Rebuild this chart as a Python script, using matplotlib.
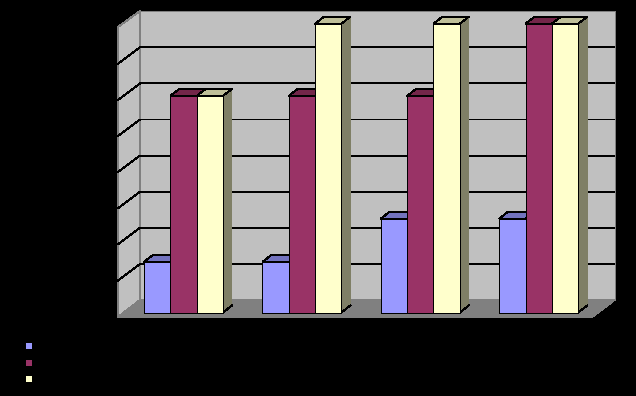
import matplotlib
matplotlib.use('Agg')
import matplotlib.pyplot as plt
from matplotlib.patches import Polygon, Rectangle

# valeurs
categories = [0, 1, 2, 3]
blue_vals = [1.4, 1.4, 2.6, 2.6]
maroon_vals = [6, 6, 6, 8]
yellow_vals = [6, 8, 8, 8]
grid_vals = [1, 2, 3, 4, 5, 6, 7]
series = [
    (blue_vals, '#9999FF', '#7373BF', '#4D4D80'),
    (maroon_vals, '#993366', '#732649', '#4D1A33'),
    (yellow_vals, '#FFFFCC', '#BFBF99', '#7F7F66'),
]

W, H = 636, 396
UNIT_X = 118.4  # pixels per category
UNIT_Y = 36.1  # pixels per value
BAR_W = 79 / 3 / UNIT_X
DEPTH_X = 9 / UNIT_X
DEPTH_Y = 7 / UNIT_Y
X0, Y0 = 183.5, 312.5  # pixel of category 0, value 0
LW = 0.72  # 1 pixel

fig = plt.figure(figsize=(W / 100, H / 100), dpi=100, facecolor='black')

# background in pixel coords
bg = fig.add_axes([0, 0, 1, 1])
bg.set_xlim(0, W)
bg.set_ylim(H, 0)
bg.axis('off')

def poly(ax, pts, fc, ec='none', lw=0.0, z=1):
    ax.add_patch(Polygon(pts, closed=True, facecolor=fc, edgecolor=ec, linewidth=lw,
                         antialiased=False, zorder=z))

poly(bg, [(140, 11), (614.5, 11), (614.5, 300), (140, 300)], '#C0C0C0', '#808080', LW)
poly(bg, [(118, 27), (140, 11), (140, 300), (118, 317)], '#C0C0C0', '#808080', LW)
poly(bg, [(118, 317), (592, 317), (614.5, 300), (140, 300)], '#808080', '#808080', LW, z=2)
for v in grid_vals:
    y = 300 - v * UNIT_Y
    bg.plot([118, 140, 614], [y + 16.5, y, y], color='black', lw=LW, antialiased=False, zorder=1.5)

# legend squares
for (vals, col, top, side), y in zip(series, [343, 360, 376]):
    bg.add_patch(Rectangle((26, y), 5.5, 5.5, facecolor=col, edgecolor='none', antialiased=False))

# bars in category / value coords
ax = fig.add_axes([0, 0, 1, 1])
ax.patch.set_alpha(0)
ax.set_xlim(-X0 / UNIT_X, (W - X0) / UNIT_X)
ax.set_ylim((Y0 - H) / UNIT_Y, Y0 / UNIT_Y)
ax.axis('off')

z = 3
for i, (vals, col, top, side) in enumerate(series):
    for c, v in zip(categories, vals):
        left = c + (i - 1.5) * BAR_W
        right = left + BAR_W
        poly(ax, [(right, 0), (right, v), (right + DEPTH_X, v + DEPTH_Y), (right + DEPTH_X, DEPTH_Y)],
             side, z=z)
        ax.plot([right, right + DEPTH_X], [0, DEPTH_Y], color='black', lw=LW, antialiased=False, zorder=z)
        poly(ax, [(left, v), (right, v), (right + DEPTH_X, v + DEPTH_Y), (left + DEPTH_X, v + DEPTH_Y)],
             top, 'black', LW, z)
        ax.bar(left, v, width=BAR_W, align='edge', color=col, edgecolor='black', linewidth=LW,
               antialiased=False, zorder=z + 1)
    z += 2

fig.savefig('out.png', dpi=100, facecolor='black')
